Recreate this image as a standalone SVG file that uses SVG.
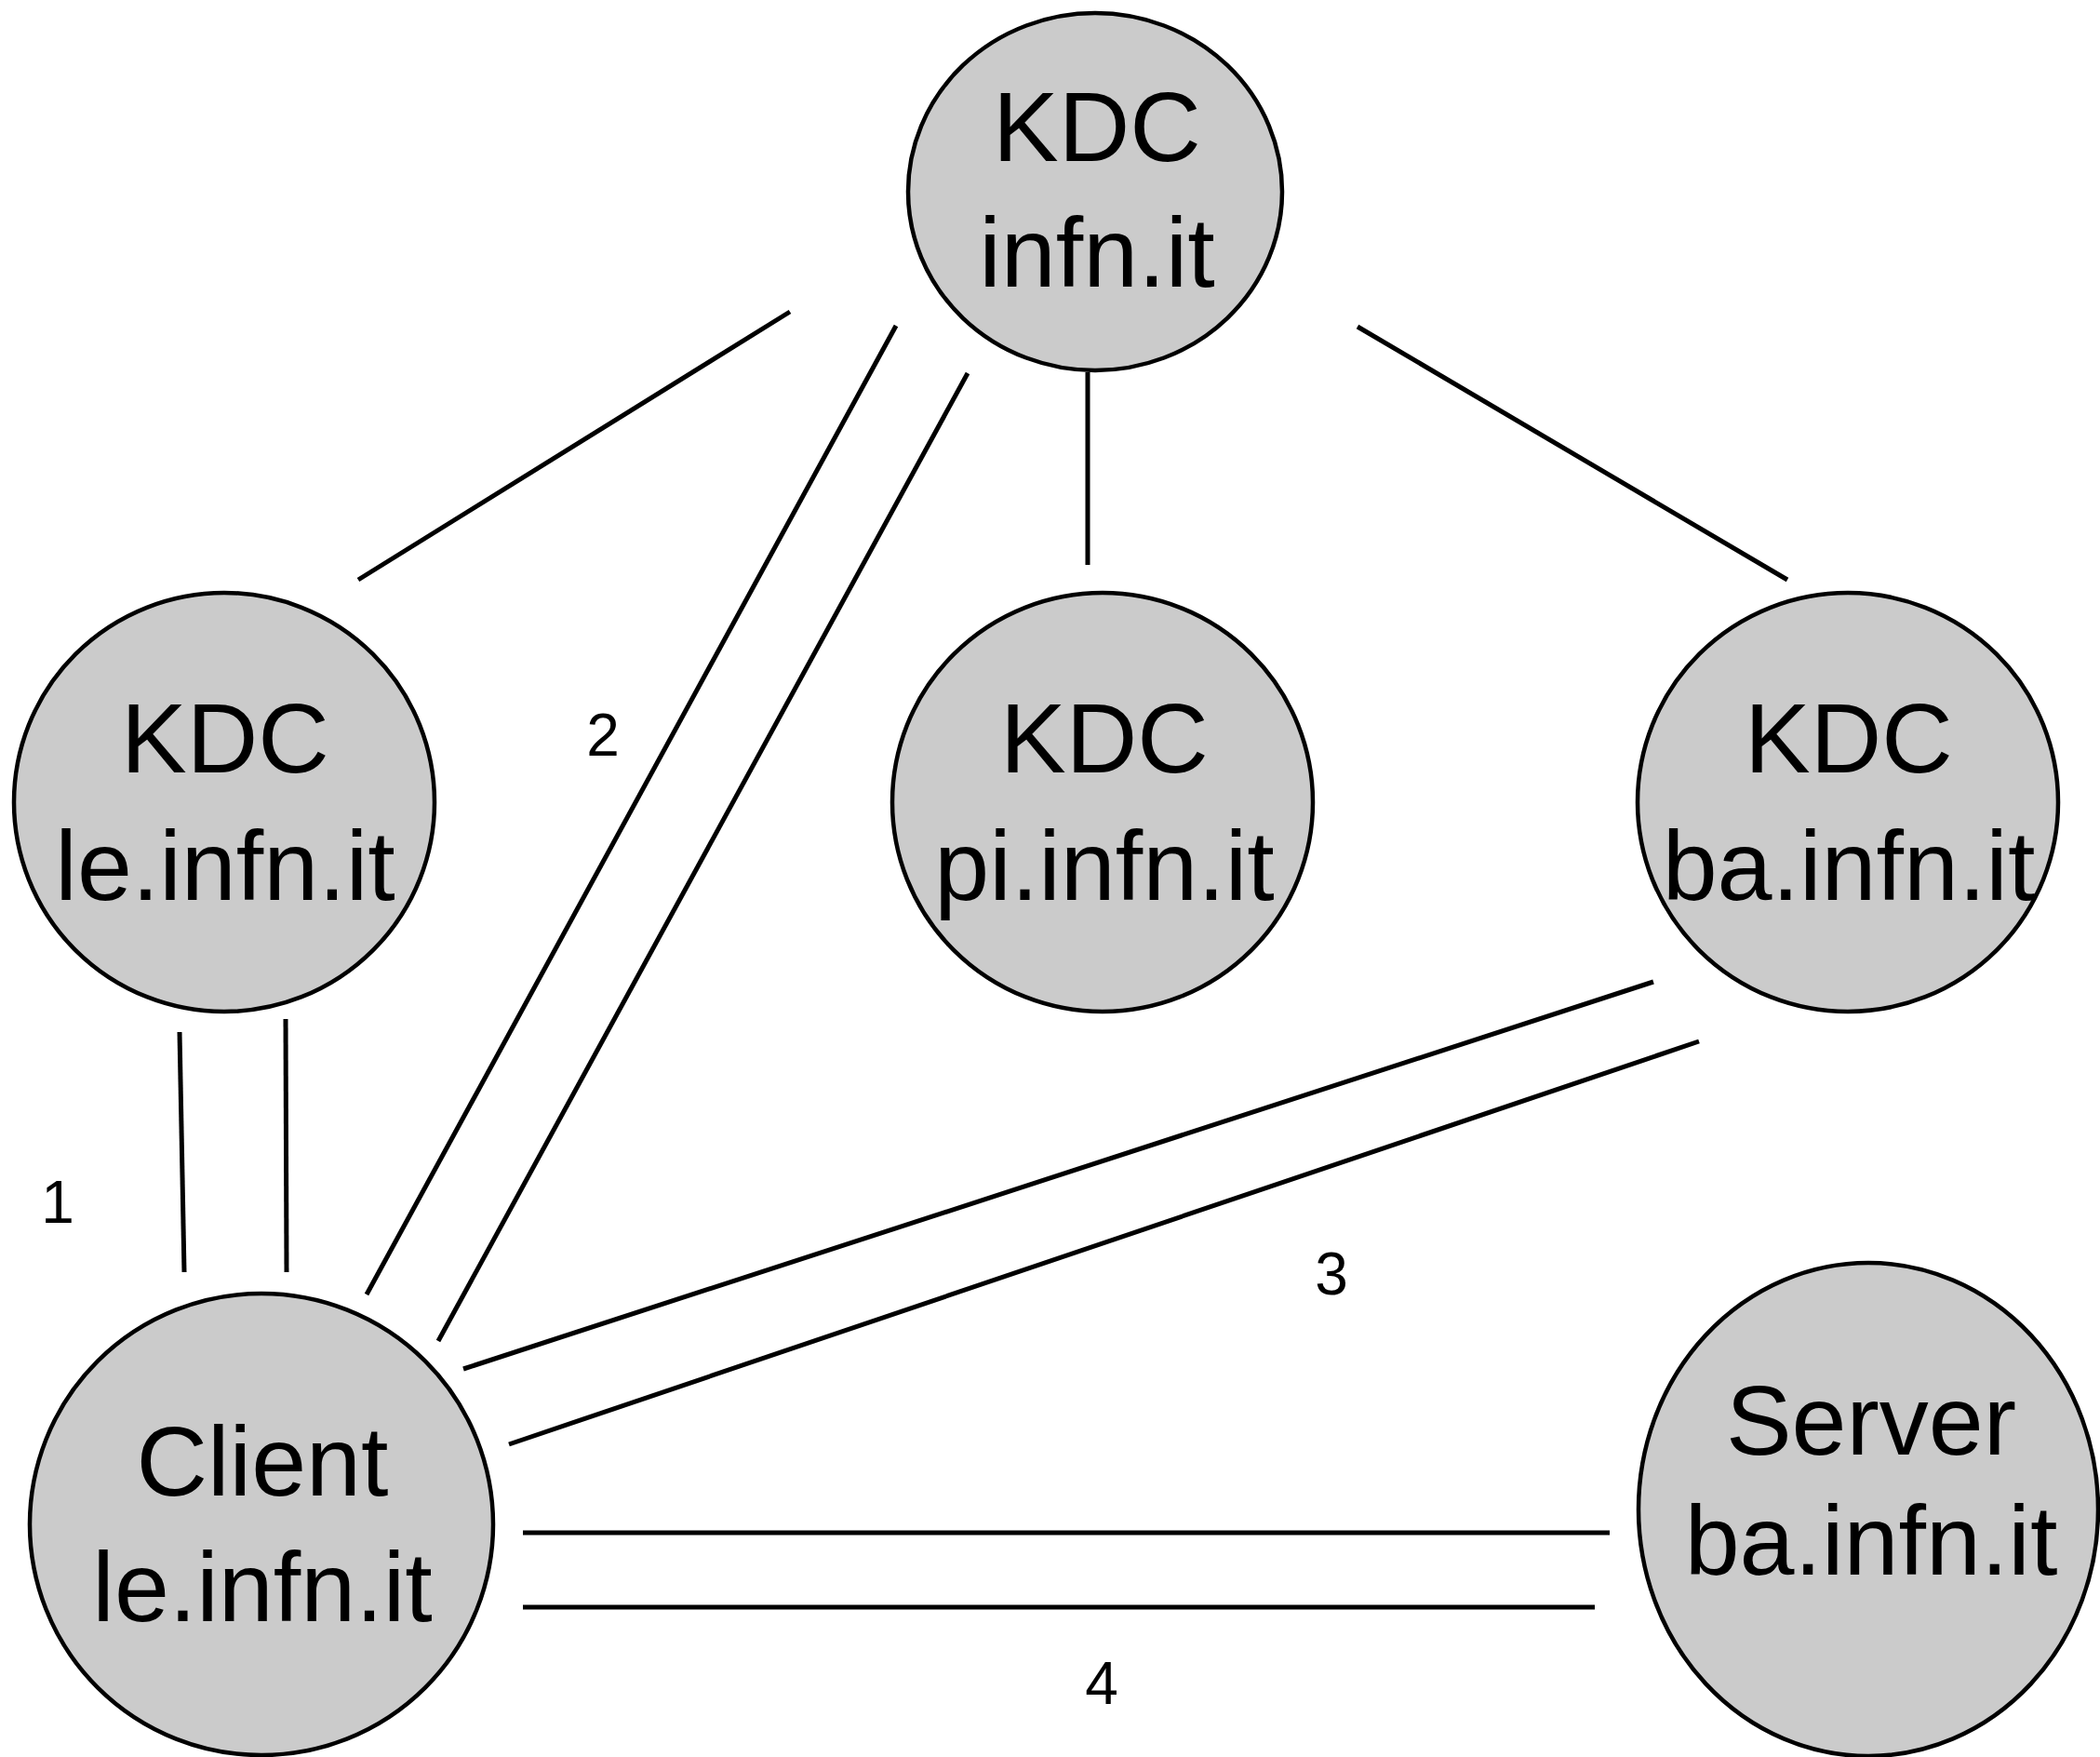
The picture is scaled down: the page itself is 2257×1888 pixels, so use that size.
<svg xmlns="http://www.w3.org/2000/svg" width="2257" height="1888" viewBox="0 0 2257 1888">
<style>
.node{fill:#cbcbcb;stroke:#000;stroke-width:4.5}
.lbl{font-family:"Liberation Sans",Arial,sans-serif;font-size:106px;fill:#000;text-anchor:middle}
.num{font-family:"Liberation Sans",Arial,sans-serif;font-size:64px;fill:#000;text-anchor:middle}
.conn line{stroke:#000;stroke-width:5;fill:none}
</style>
<rect width="2257" height="1888" fill="#fff"/>
<g id="connectors" class="conn">
<line x1="849" y1="335" x2="385" y2="623"/>
<line x1="963" y1="350" x2="394" y2="1391"/>
<line x1="1040" y1="401" x2="471" y2="1441"/>
<line x1="1169" y1="400" x2="1169" y2="607"/>
<line x1="1459" y1="351" x2="1921" y2="623"/>
<line x1="193" y1="1109" x2="198" y2="1367"/>
<line x1="307" y1="1095" x2="308" y2="1367"/>
<line x1="1777" y1="1055" x2="498" y2="1471"/>
<line x1="1826" y1="1119" x2="547" y2="1552"/>
<line x1="562" y1="1647" x2="1730" y2="1647"/>
<line x1="562" y1="1727" x2="1714" y2="1727"/>
</g>
<g id="labels">
<text class="num" x="648" y="812">2</text>
<text class="num" x="62" y="1314">1</text>
<text class="num" x="1431" y="1391">3</text>
<text class="num" x="1184" y="1831">4</text>
</g>
<g id="kdc-infn">
<ellipse class="node" cx="1177" cy="206" rx="201" ry="192"/>
<text class="lbl" x="1179" y="173">KDC</text>
<text class="lbl" x="1179" y="308">infn.it</text>
</g>
<g id="kdc-le">
<ellipse class="node" cx="241" cy="862" rx="226" ry="225"/>
<text class="lbl" x="242" y="830">KDC</text>
<text class="lbl" x="242" y="967">le.infn.it</text>
</g>
<g id="kdc-pi">
<ellipse class="node" cx="1185" cy="862" rx="226" ry="225"/>
<text class="lbl" x="1187" y="830">KDC</text>
<text class="lbl" x="1187" y="967">pi.infn.it</text>
</g>
<g id="kdc-ba">
<ellipse class="node" cx="1986" cy="862" rx="226" ry="225"/>
<text class="lbl" x="1987" y="830">KDC</text>
<text class="lbl" x="1987" y="967">ba.infn.it</text>
</g>
<g id="client">
<ellipse class="node" cx="281" cy="1638" rx="249" ry="248"/>
<text class="lbl" x="282" y="1607">Client</text>
<text class="lbl" x="282" y="1742">le.infn.it</text>
</g>
<g id="server">
<ellipse class="node" cx="2008" cy="1622" rx="247" ry="265"/>
<text class="lbl" x="2011" y="1563">Server</text>
<text class="lbl" x="2011" y="1692">ba.infn.it</text>
</g>
</svg>
